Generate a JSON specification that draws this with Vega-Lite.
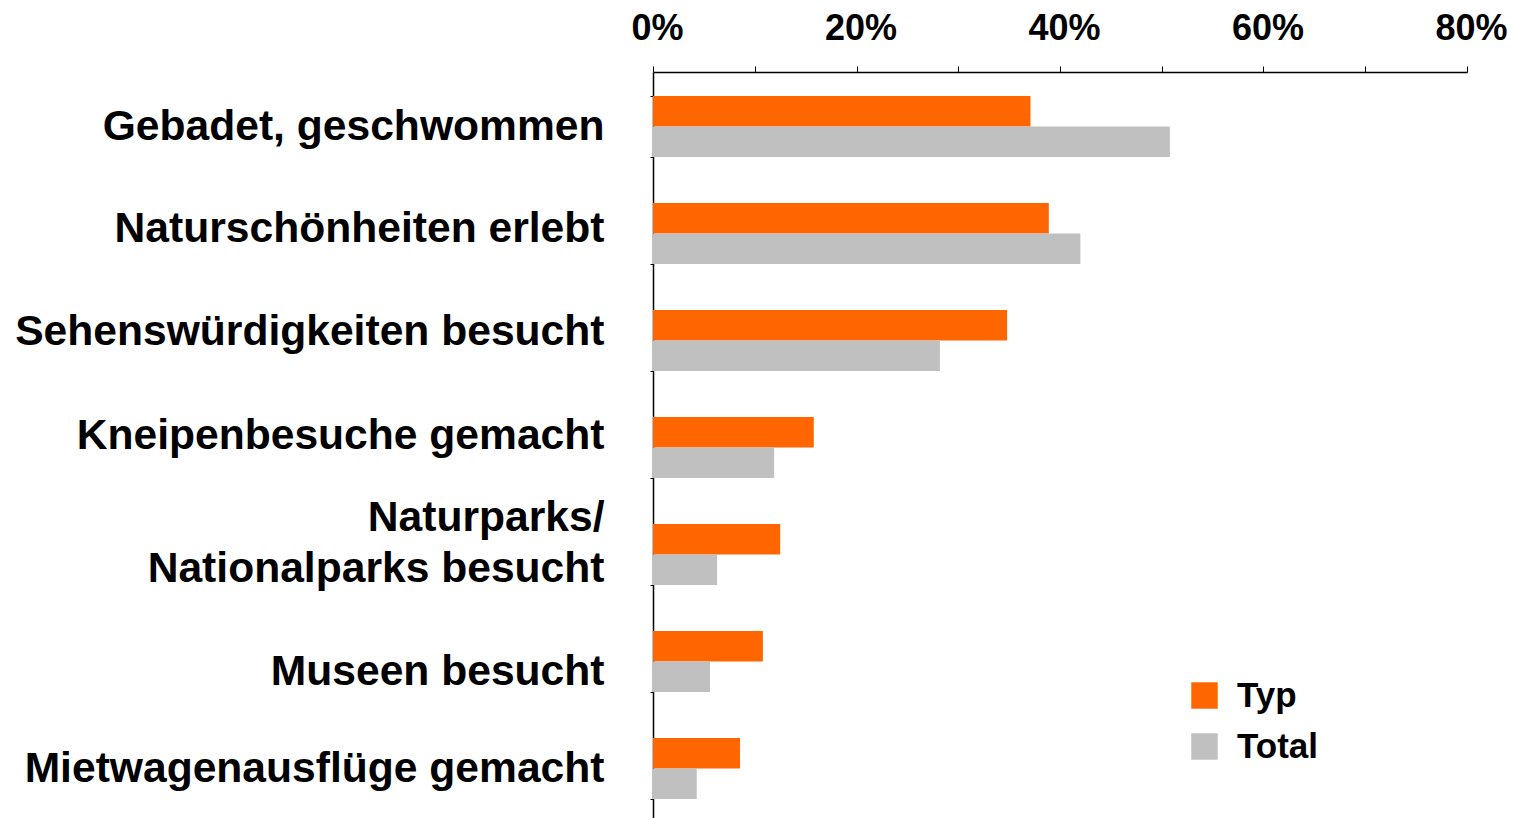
{
  "$schema": "https://vega.github.io/schema/vega-lite/v6.json",
  "autosize": "none",
  "width": 814,
  "height": 746,
  "padding": {"left": 653, "top": 72, "right": 59, "bottom": 0},
  "background": "white",
  "config": {
    "view": {"stroke": null},
    "font": "Liberation Sans"
  },
  "data": {
    "values": [
      {"activity": "Gebadet, geschwommen", "series": "Typ", "value": 0.371},
      {"activity": "Gebadet, geschwommen", "series": "Total", "value": 0.508},
      {"activity": "Naturschönheiten erlebt", "series": "Typ", "value": 0.389},
      {"activity": "Naturschönheiten erlebt", "series": "Total", "value": 0.420},
      {"activity": "Sehenswürdigkeiten besucht", "series": "Typ", "value": 0.348},
      {"activity": "Sehenswürdigkeiten besucht", "series": "Total", "value": 0.282},
      {"activity": "Kneipenbesuche gemacht", "series": "Typ", "value": 0.158},
      {"activity": "Kneipenbesuche gemacht", "series": "Total", "value": 0.119},
      {"activity": "Naturparks/|Nationalparks besucht", "series": "Typ", "value": 0.125},
      {"activity": "Naturparks/|Nationalparks besucht", "series": "Total", "value": 0.063},
      {"activity": "Museen besucht", "series": "Typ", "value": 0.108},
      {"activity": "Museen besucht", "series": "Total", "value": 0.056},
      {"activity": "Mietwagenausflüge gemacht", "series": "Typ", "value": 0.0855},
      {"activity": "Mietwagenausflüge gemacht", "series": "Total", "value": 0.043}
    ]
  },
  "mark": {"type": "bar"},
  "encoding": {
    "y": {
      "field": "activity",
      "type": "nominal",
      "sort": null,
      "title": null,
      "scale": {"range": [0, 751], "paddingInner": 0.43, "paddingOuter": 0.224},
      "axis": {
        "domainColor": "black",
        "domainWidth": 1.5,
        "tickColor": "black",
        "tickSize": 3,
        "tickBand": "extent",
        "labelFontSize": 42.6,
        "labelFontWeight": "bold",
        "labelColor": "black",
        "labelPadding": 46,
        "labelLineHeight": 51,
        "labelLimit": 700,
        "labelExpr": "split(datum.label, '|')",
        "labelOffset": {
          "condition": [
            {"test": "datum.value == 'Naturschönheiten erlebt'", "value": -4.5},
            {"test": "datum.value == 'Sehenswürdigkeiten besucht'", "value": -9},
            {"test": "datum.value == 'Kneipenbesuche gemacht'", "value": -12},
            {"test": "datum.value == 'Naturparks/|Nationalparks besucht'", "value": -37},
            {"test": "datum.value == 'Museen besucht'", "value": 10}
          ],
          "value": 0
        }
      }
    },
    "yOffset": {"field": "series", "type": "nominal", "sort": ["Typ", "Total"]},
    "x": {
      "field": "value",
      "type": "quantitative",
      "title": null,
      "scale": {"domain": [0, 0.8], "nice": false},
      "axis": {
        "orient": "top",
        "values": [0, 0.1, 0.2, 0.3, 0.4, 0.5, 0.6, 0.7, 0.8],
        "labelExpr": "round(datum.value*10) % 2 == 0 ? format(datum.value, '.0%') : ''",
        "grid": false,
        "domainColor": "black",
        "domainWidth": 1.5,
        "tickColor": "black",
        "tickSize": 6,
        "labelFontSize": 36,
        "labelFontWeight": "bold",
        "labelColor": "black",
        "labelPadding": 19,
        "labelOffset": 4,
        "labelFlush": false,
        "labelOverlap": false
      }
    },
    "color": {
      "field": "series",
      "type": "nominal",
      "sort": ["Typ", "Total"],
      "scale": {"domain": ["Typ", "Total"], "range": ["#FF6600", "#C0C0C0"]},
      "legend": {
        "title": null,
        "orient": "none",
        "legendX": 534,
        "legendY": 606,
        "symbolType": "square",
        "symbolSize": 700,
        "symbolStrokeWidth": 0,
        "labelFontSize": 35,
        "labelFontWeight": "bold",
        "labelColor": "black",
        "labelOffset": 15,
        "rowPadding": 15
      }
    }
  }
}
